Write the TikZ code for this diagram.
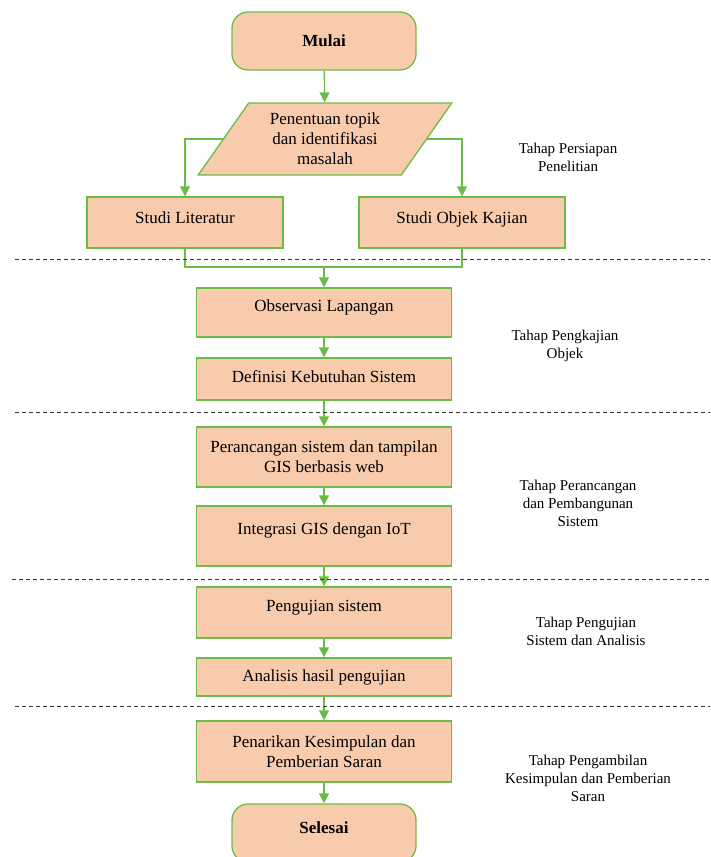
\documentclass[tikz,border=0pt]{standalone}
\usepackage{fontspec}
\setmainfont{Liberation Serif}
\usepackage{tikz}
\usetikzlibrary{positioning,arrows.meta,shapes.geometric}
\usepackage{xcolor}
\definecolor{leafgreen}{HTML}{6CBB47}
\definecolor{peach}{HTML}{F8CBAD}
\definecolor{dashgray}{HTML}{333333}

\begin{document}
\begin{tikzpicture}[
    x=1pt, y=-1pt,
    every node/.style={font=\fontsize{17}{20}\selectfont},
    stepBox/.style={rectangle, draw=leafgreen, fill=peach, line width=1.3pt, align=center, minimum width=255pt, inner sep=2pt},
    termBox/.style={stepBox, rounded corners=16pt, minimum width=184pt, minimum height=58pt, font=\fontsize{17}{20}\selectfont\bfseries},
    dataBox/.style={trapezium, trapezium left angle=55, trapezium right angle=125, trapezium stretches=true, draw=leafgreen, fill=peach, line width=1.3pt, align=center, minimum width=254pt, minimum height=72pt, inner sep=0pt},
    liftText/.style={text height=12pt, text depth=#1},
    flowArrow/.style={-{Triangle[length=10pt, width=10pt]}, draw=leafgreen, line width=1.3pt},
    flowLine/.style={draw=leafgreen, line width=1.3pt},
    phaseLine/.style={dash pattern=on 4pt off 3pt, draw=dashgray, line width=0.9pt},
    phaseNote/.style={align=center, font=\fontsize{15}{18}\selectfont}
]
    \useasboundingbox (0,0) rectangle (710,857);

    % Tahap persiapan
    \node[termBox] (mulai) at (324,41) {Mulai};
    \node[dataBox] (topik) at (325,139) {Penentuan topik\\dan identifikasi\\masalah};
    \node[stepBox, liftText=10pt, minimum width=196pt, minimum height=51pt] (literatur) at (185,222.5) {Studi Literatur};
    \node[stepBox, liftText=10pt, minimum width=206pt, minimum height=51pt] (objek) at (462,222.5) {Studi Objek Kajian};
    \coordinate (gabung) at (324,267);

    % Tahap pengkajian
    \node[stepBox, liftText=14pt, minimum height=49pt] (observasi) at (324,312.5) {Observasi Lapangan};
    \node[stepBox, liftText=6pt, minimum height=42pt] (kebutuhan) at (324,379) {Definisi Kebutuhan Sistem};

    % Tahap perancangan
    \node[stepBox, minimum height=60pt] (rancang) at (324,457) {Perancangan sistem dan tampilan\\GIS berbasis web};
    \node[stepBox, liftText=16pt, minimum height=60pt] (integrasi) at (324,536) {Integrasi GIS dengan IoT};

    % Tahap pengujian
    \node[stepBox, liftText=14pt, minimum height=51pt] (uji) at (324,612.5) {Pengujian sistem};
    \node[stepBox, minimum height=38pt] (analisis) at (324,677) {Analisis hasil pengujian};

    % Tahap pengambilan kesimpulan
    \node[stepBox, minimum height=61pt] (simpulan) at (324,751.5) {Penarikan Kesimpulan dan\\Pemberian Saran};
    \node[termBox, liftText=12pt] (selesai) at (324,833) {Selesai};

    % Alur
    \draw[flowArrow] (mulai) -- (topik);
    \draw[flowArrow] (topik.west) -| (literatur.north);
    \draw[flowArrow] (topik.east) -| (objek.north);
    \draw[flowLine] (literatur.south) |- (gabung) -| (objek.south);
    \draw[flowArrow] (gabung) -- (observasi);
    \draw[flowArrow] (observasi) -- (kebutuhan);
    \draw[flowArrow] (kebutuhan) -- (rancang);
    \draw[flowArrow] (rancang) -- (integrasi);
    \draw[flowArrow] (integrasi) -- (uji);
    \draw[flowArrow] (uji) -- (analisis);
    \draw[flowArrow] (analisis) -- (simpulan);
    \draw[flowArrow] (simpulan) -- (selesai);

    % Batas tahap
    \draw[phaseLine] (15,259) -- (710,259);
    \draw[phaseLine] (15,412) -- (710,412);
    \draw[phaseLine] (12,579) -- (710,579);
    \draw[phaseLine] (15,706) -- (710,706);

    % Keterangan tahap
    \node[phaseNote] (tahap1) at (568,157) {Tahap Persiapan\\Penelitian};
    \node[phaseNote] (tahap2) at (565,346) {Tahap Pengkajian\\Objek};
    \node[phaseNote] (tahap3) at (578,503) {Tahap Perancangan\\dan Pembangunan\\Sistem};
    \node[phaseNote] (tahap4) at (586,631) {Tahap Pengujian\\Sistem dan Analisis};
    \node[phaseNote] (tahap5) at (588,778) {Tahap Pengambilan\\Kesimpulan dan Pemberian\\Saran};
\end{tikzpicture}
\end{document}
